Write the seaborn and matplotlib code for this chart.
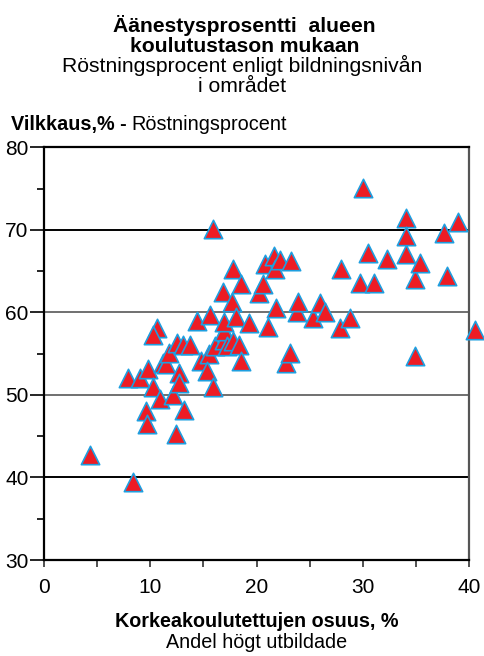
import numpy as np
import seaborn as sns
import matplotlib.pyplot as plt
import pandas as pd

# share of people with higher education (%) and voter turnout (%) per area
edu = [4.3, 8.4, 7.9, 9.0, 9.8, 9.6, 9.7, 10.3, 10.9, 10.6,
       10.3, 11.2, 11.5, 11.8, 12.1, 12.4, 12.5, 12.7, 12.7, 13.2,
       13.1, 13.7, 14.4, 14.8, 15.5, 15.3, 15.6, 15.9, 15.9, 16.1,
       16.9, 16.9, 16.9, 16.8, 17.2, 17.7, 17.8, 17.8, 18.1, 18.4,
       18.5, 18.5, 19.3, 20.2, 20.6, 20.8, 21.05, 21.6, 21.7, 21.8,
       22.2, 22.8, 23.15, 23.2, 23.8, 23.9, 25.3, 26.0, 26.4, 27.9,
       27.95, 28.8, 29.7, 30.0, 30.5, 31.1, 32.25, 34.07, 34.07, 34.1,
       34.95, 35.4, 34.95, 37.6, 37.95, 38.95, 40.55]
turnout = [42.7, 39.5, 52.1, 52.1, 53.1, 48.1, 46.5, 51.0, 49.5, 58.1,
           57.2, 53.9, 53.7, 55.1, 50.0, 45.3, 56.3, 52.6, 51.5, 48.2,
           56.0, 56.1, 58.9, 54.1, 54.9, 52.9, 59.7, 70.1, 51.0, 55.9,
           56.7, 57.7, 58.8, 62.5, 55.9, 61.2, 56.5, 65.2, 59.5, 56.1,
           63.4, 54.1, 58.7, 62.4, 63.4, 65.9, 58.2, 66.8, 65.3, 60.5,
           66.4, 53.9, 55.1, 66.2, 60.1, 61.3, 59.3, 61.1, 60.1, 58.1,
           65.3, 59.3, 63.5, 75.1, 67.2, 63.5, 66.5, 71.4, 67.1, 69.3,
           64.0, 66.0, 54.7, 69.6, 64.35, 70.9, 57.9]

grid_vals = [70, 60, 50, 40]
grid_cols = ['black', '#707070', '#707070', 'black']

df = pd.DataFrame({'edu': edu, 'turnout': turnout})

sns.set_style('white')
plt.rcParams['font.family'] = ['Liberation Sans', 'DejaVu Sans']
plt.rcParams['text.color'] = 'black'
plt.rcParams['xtick.color'] = 'black'
plt.rcParams['ytick.color'] = 'black'

W, H = 484, 656
fig = plt.figure(figsize=(W / 100, H / 100), dpi=100)
ax = fig.add_axes([44 / W, 1 - 560 / H, (469 - 44) / W, (560 - 147.3) / H])

for v, c in zip(grid_vals, grid_cols):
    ax.axhline(v, color=c, lw=1.4, zorder=1)

sns.scatterplot(data=df, x='edu', y='turnout', marker='^', s=175,
                color='#ED1C24', edgecolor='#1E9FE0', linewidth=1.2,
                clip_on=False, zorder=3, ax=ax, legend=False)

ax.set_xlim(0, 40)
ax.set_ylim(30, 80)
ax.set_xticks(np.arange(0, 41, 5))
ax.set_xticklabels([str(v) if v % 10 == 0 else '' for v in range(0, 41, 5)])
ax.set_yticks(np.arange(30, 81, 10))
ax.set_yticks(np.arange(35, 80, 10), minor=True)
ax.tick_params(axis='x', direction='out', length=5, width=1.2, pad=8,
               labelsize=15, color='#333333', labelcolor='black', bottom=True)
ax.tick_params(axis='y', which='major', direction='out', length=10, width=1.2,
               pad=1, labelsize=15, labelcolor='black', left=True)
ax.tick_params(axis='y', which='minor', direction='out', length=5, width=1.2,
               left=True)
ax.set_xlabel('')
ax.set_ylabel('')

for side in ['left', 'bottom', 'top']:
    ax.spines[side].set_color('black')
    ax.spines[side].set_linewidth(1.6)
ax.spines['right'].set_color('#555555')
ax.spines['right'].set_linewidth(1.6)

# titles
fig.text(0.505, 1 - 32 / H, 'Äänestysprosentti  alueen', ha='center',
         va='baseline', fontsize=15.2, weight='bold')
fig.text(0.505, 1 - 52 / H, 'koulutustason mukaan', ha='center',
         va='baseline', fontsize=15.2, weight='bold')
fig.text(0.5, 1 - 72 / H, 'Röstningsprocent enligt bildningsnivån',
         ha='center', va='baseline', fontsize=15.2)
fig.text(0.5, 1 - 92 / H, 'i området', ha='center', va='baseline',
         fontsize=15.2)

# y axis title, bold + regular parts
t1 = fig.text(11 / W, 1 - 130 / H, 'Vilkkaus,% -', ha='left',
              va='baseline', fontsize=14.3, weight='bold')
fig.canvas.draw()
bb = t1.get_window_extent()
fig.text((bb.x1 + 5) / W, 1 - 130 / H, 'Röstningsprocent', ha='left',
         va='baseline', fontsize=14.3)

# x axis title
xc = (44 + 469) / 2 / W
fig.text(xc, 1 - 627 / H, 'Korkeakoulutettujen osuus, %', ha='center',
         va='baseline', fontsize=14.2, weight='bold')
fig.text(xc, 1 - 648 / H, 'Andel högt utbildade', ha='center',
         va='baseline', fontsize=14.2)

fig.savefig('out.png', dpi=100)
